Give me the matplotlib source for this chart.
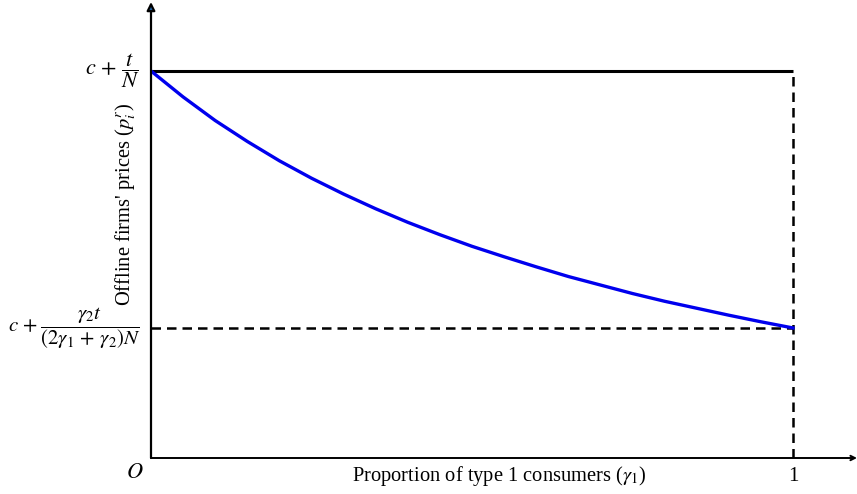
import matplotlib
matplotlib.use("Agg")
import matplotlib.pyplot as plt

plt.rcParams["font.family"] = ["Liberation Serif", "DejaVu Serif"]
plt.rcParams["mathtext.fontset"] = "stix"

# Offline firms' price as the share of type 1 consumers rises (normalised units)
gamma1 = [0.00, 0.05, 0.10, 0.15, 0.20, 0.25, 0.30, 0.35, 0.40, 0.45, 0.50,
          0.55, 0.60, 0.65, 0.70, 0.75, 0.80, 0.85, 0.90, 0.95, 1.00]
price = [1.000, 0.933, 0.872, 0.818, 0.768, 0.723, 0.682, 0.644, 0.609, 0.577,
         0.547, 0.520, 0.494, 0.469, 0.447, 0.425, 0.405, 0.387, 0.369, 0.352,
         0.336]

p_high = 1.0      # c + t/N
p_low = 0.336     # c + γ2 t / ((2γ1+γ2)N)
x_end = 1.0

fig = plt.figure(figsize=(8.57, 4.94), dpi=100)
ax = fig.add_axes([151 / 857, 36 / 494, 706 / 857, 456 / 494])
ax.set_xlim(0, 706 / 642)
ax.set_ylim(0, 456 / 387)
ax.axis("off")

# axes with arrowheads
ax.annotate("", xy=(0, 456 / 387), xytext=(0, 0),
            arrowprops=dict(arrowstyle="-|>", lw=1.6, color="black",
                            mutation_scale=12, fc="#1f5f9f", shrinkA=0, shrinkB=0),
            annotation_clip=False)
ax.annotate("", xy=(706 / 642, 0), xytext=(0, 0),
            arrowprops=dict(arrowstyle="->", lw=1.4, color="black",
                            mutation_scale=8, shrinkA=0, shrinkB=0),
            annotation_clip=False)

# reference levels
dash = (0, (3.8, 2.4))
ax.plot([0, x_end], [p_high, p_high], color="black", lw=2.2, solid_capstyle="butt")
ax.plot([0, x_end], [p_low, p_low], color="black", lw=1.8, ls=dash)
ax.plot([x_end, x_end], [0, p_high], color="black", lw=1.8, ls=dash)

# price curve
ax.plot(gamma1, price, color="#0000ee", lw=2.4)

# level labels
ax.text(-0.017, p_high, r"$c\,+\,\dfrac{t}{N}$", ha="right", va="center", fontsize=16)
ax.text(-0.017, p_low, r"$c\,+\dfrac{\gamma_2 t}{(2\gamma_1\,+\,\gamma_2)N}$",
        ha="right", va="center", fontsize=15)

# tick labels on the horizontal axis
ax.text(-0.012, -0.04, r"$O$", ha="right", va="center", fontsize=16)
ax.text(x_end, -0.047, "1", ha="center", va="center", fontsize=15)

# axis titles
ax.text(0.5425, -0.047, r"Proportion of type 1 consumers ($\gamma_1$)",
        ha="center", va="center", fontsize=14.8)
ax.text(-0.04, 0.655, r"Offline firms' prices ($p_i^r$)", rotation=90,
        ha="center", va="center", fontsize=14.8)

fig.savefig("out.png", dpi=100)
